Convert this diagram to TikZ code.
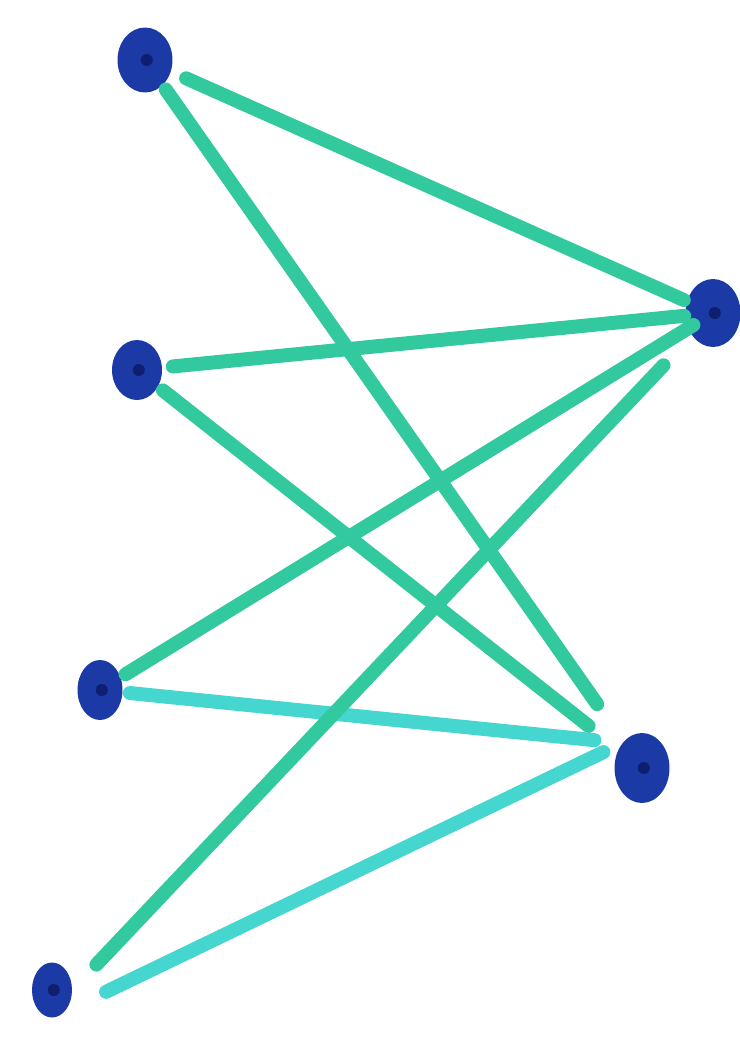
\documentclass[tikz,border=0pt]{standalone}
\usepackage{xcolor}
\usetikzlibrary{shapes.geometric}
\definecolor{dotblue}{HTML}{1B3AA6}
\definecolor{dotcore}{HTML}{0D1F6E}
\definecolor{teal}{HTML}{33C99E}
\definecolor{aqua}{HTML}{45D6CF}
\tikzset{
  dot/.style={ellipse,fill=dotblue,draw=none,inner sep=0pt,minimum width=#1},
  link/.style={draw=#1,line width=0.28cm,line cap=round},
  link/.default=teal
}

\begin{document}
\begin{tikzpicture}[x=0.02cm,y=-0.02cm]
    \fill[white] (0,0) rectangle (740,1041);
    \useasboundingbox (0,0) rectangle (740,1041);

    \node[dot=1.1cm,minimum height=1.3cm] (l1) at (145,60) {};
    \node[dot=1.0cm,minimum height=1.2cm] (l2) at (137,370) {};
    \node[dot=0.9cm,minimum height=1.2cm] (l3) at (100,690) {};
    \node[dot=0.8cm,minimum height=1.1cm] (l4) at (52,990) {};
    \node[dot=1.1cm,minimum height=1.36cm] (r1) at (713,313) {};
    \node[dot=1.1cm,minimum height=1.4cm] (r2) at (642,768) {};

    % edges stop short of the dots
    \draw[link,shorten <=0.9cm,shorten >=0.64cm] (l1.center) -- (r1.center);
    \draw[link,shorten <=0.72cm,shorten >=1.56cm] (l1.center) -- (r2.center);
    \draw[link,shorten <=0.72cm,shorten >=0.58cm] (l2.center) -- (r1.center);
    \draw[link,shorten <=0.66cm,shorten >=1.36cm] (l2.center) -- (r2.center);
    \draw[link,shorten <=0.6cm,shorten >=0.46cm] (l3.center) -- (r1.center);
    \draw[link=aqua,shorten <=0.6cm,shorten >=0.56cm] (l3.center) -- (r2.north west);
    \draw[link,shorten <=0.7cm,shorten >=1.44cm] (l4.east) -- (r1.center);
    \draw[link=aqua,shorten <=1.2cm,shorten >=0.42cm] (l4.south) -- (r2.north west);

    \foreach \n in {l1,l2,l3,l4,r1,r2}
      \fill[dotcore] ([xshift=1pt]\n.center) circle (0.12cm);
\end{tikzpicture}
\end{document}
